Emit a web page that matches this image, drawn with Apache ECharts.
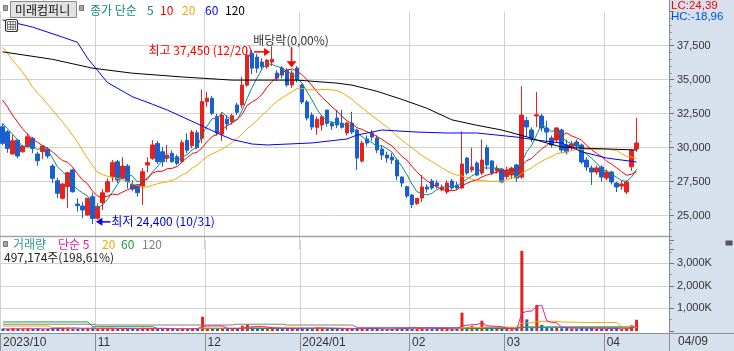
<!DOCTYPE html>
<html><head><meta charset="utf-8">
<script src="https://cdn.jsdelivr.net/npm/echarts/dist/echarts.min.js"></script>
<style>html,body{margin:0;padding:0;background:#fff}#c{width:734px;height:351px}</style>
</head><body><div id="c"></div>
<script>
// ---------------- DATA ----------------
const tradingDays = {
  '2023/10': [4,5,6,10,11,12,13,16,17,18,19,20,23,24,25,26,27,30,31],
  '2023/11': [1,2,3,6,7,8,9,10,13,14,15,16,17,20,21,22,23,24,27,28,29,30],
  '2023/12': [1,4,5,6,7,8,11,12,13,14,15,18,19,20,21,22,26,27,28],
  '2024/01': [2,3,4,5,8,9,10,11,12,15,16,17,18,19,22,23,24,25,26,29,30,31],
  '2024/02': [1,2,5,6,7,8,13,14,15,16,19,20,21,22,23,26,27,28,29],
  '2024/03': [4,5,6,7,8,11,12,13,14,15,18,19,20,21,22,25,26,27,28,29],
  '2024/04': [1,2,3,4,5,8,9]
};
const categories = [];
Object.keys(tradingDays).forEach(m => tradingDays[m].forEach(d => categories.push(m + '/' + String(d).padStart(2, '0'))));

const opens = [31540,31170,29540,30560,29700,30070,30690,29540,29710,29880,
 28650,27570,26280,27130,28360,25860,25710,25050,26400,24810,
 25950,26760,27870,28970,27750,28650,27300,27300,27130,28730,
 29220,30320,29700,29220,29590,29340,29000,30550,30150,31100,
 30700,33380,33630,32300,31000,32100,31900,33140,33140,34600,
 36950,36660,36300,35950,36300,35490,35860,35710,34610,35860,
 34610,33360,32400,31500,31670,32770,31800,32180,31800,31080,
 31810,31300,29020,30640,31080,30710,29900,29460,29310,29090,
 27840,27130,26520,25900,26300,27110,27550,27400,26900,26740,
 27550,27250,27040,29240,28360,28870,28140,30000,29020,28280,
 28430,27880,28000,28730,27840,32000,31300,32330,32330,31450,
 30710,30560,31300,30200,29980,30420,30200,29090,28510,28210,
 28580,27770,28210,27400,27180,26740,28600,29900];
const highs = [31790,31300,30930,30600,30200,31050,30800,29700,30200,30050,
 28800,27800,27400,28200,28450,26280,26000,26300,26700,25900,
 26950,27750,29090,29100,29300,28800,27600,27300,28500,29300,
 30560,30500,30050,30200,29800,29500,30560,31050,31300,31300,
 34280,34110,33800,32500,32600,32400,32500,33300,35200,37180,
 37180,36900,36600,36500,37450,35700,36000,35850,35700,36000,
 34700,33500,32600,32300,32400,32770,31950,32770,32800,31900,
 32640,31400,30500,30900,31300,30900,30200,29700,29600,29200,
 27900,27200,26600,26300,27990,27300,27700,27600,27300,27600,
 27700,27500,31200,29300,30000,29000,30600,30200,29100,28700,
 28500,28600,28600,28800,34530,32280,31500,34090,32500,32000,
 30900,31500,31400,30600,30500,30600,30300,29300,28700,28700,
 28700,28400,28300,27500,27600,27600,29900,32200];
const lows = [30190,29630,29500,29220,29650,30000,29600,28670,29180,29220,
 27400,26290,26200,25560,26700,25300,24810,25000,24400,24700,
 25420,26700,27500,27400,27700,27000,26800,26400,25790,28200,
 29100,28800,28600,28930,28900,28700,28950,29590,29950,29900,
 30320,33010,32400,30900,30500,31300,31700,32400,32900,34500,
 35400,35500,35700,35800,36000,34900,35100,34500,34400,34800,
 33200,32000,31300,30950,31250,31550,31300,31450,31400,30900,
 31000,28360,28900,30100,30500,29600,29100,28900,28800,27600,
 27110,26300,25570,25800,26000,26700,26900,27000,26800,26600,
 26900,26900,27000,28000,28200,27900,28000,28400,28000,28100,
 27400,27700,27700,27480,27700,30800,30420,31520,31200,30400,
 30000,30400,29600,29500,29800,29900,28800,28300,27260,28000,
 27500,27600,27300,26740,26900,26600,28300,29700];
const closes = [30320,29950,30510,29390,30120,30800,29950,29040,30120,29390,
 27750,26650,27330,28160,26760,25740,25420,26280,24800,25660,
 26690,27500,28900,27620,28650,27500,26960,26690,28230,28900,
 30200,28970,28970,29460,28970,28850,30370,29820,31150,30000,
 33390,33630,32530,31100,32400,31750,32350,32600,34600,36800,
 35850,35850,35950,36440,36500,35120,35340,34610,35490,34970,
 33360,32180,31520,32100,32280,31790,31600,31670,31500,31810,
 31150,29240,30340,30340,30780,29830,29460,29240,29090,27920,
 27400,26450,25820,26280,27110,26960,27040,27180,27110,27400,
 27040,27040,28800,28140,28580,27990,29090,28730,28140,28500,
 27480,28320,28500,27770,32400,31530,30710,32420,31450,31150,
 30200,31450,29830,29680,30270,30120,28950,28580,28210,28510,
 27840,28210,27480,27110,27330,27480,29800,30350];
const volumes = [110000,95000,120000,100000,80000,105000,90000,115000,85000,90000,130000,140000,120000,150000,135000,110000,95000,120000,150000,
 110000,120000,100000,130000,115000,105000,100000,90000,85000,140000,100000,135000,120000,95000,90000,85000,80000,110000,95000,130000,100000,630000,
 140000,120000,110000,130000,90000,85000,120000,235000,295000,190000,160000,130000,110000,120000,140000,115000,100000,95000,120000,
 150000,145000,110000,145000,120000,110000,100000,95000,90000,110000,100000,150000,130000,95000,85000,90000,80000,75000,85000,160000,120000,130000,
 140000,90000,100000,180000,95000,90000,85000,90000,100000,85000,810000,180000,220000,140000,455000,170000,120000,100000,110000,
 90000,80000,120000,3550000,515000,150000,1150000,265000,160000,130000,140000,125000,140000,115000,110000,130000,120000,140000,100000,110000,
 90000,100000,130000,80000,110000,250327,497174];

const ma5Head = [31800,31400,31000,30600];
const ma10Head = [33500,33000,32400,31900,31400,31000,30650,30400,30150];
const ma20Head = [37400,36960,36440,36000,35560,35050,34460,34020,33650,33210,32770,32330,31890,31450,30930,30420,29830,29240,28730];
const ma60Samples = [[0,39400],[6,38870],[12,38135],[15,37750],[17,36600],[19,35700],[21,34800],[26,33750],[30,33200],[33,32770],[40,31600],[43,31080],[46,30600],[50,30270],[53,30200],[62,30350],[69,30640],[71,30930],[76,31300],[83,31150],[89,31080],[95,31080],[103,30780],[107,30560],[112,30340],[116,29700],[121,29240],[127,28950]];
const ma120Samples = [[0,37050],[10,36500],[18,35850],[26,35480],[36,35200],[46,34970],[59,34970],[67,34750],[70,34600],[75,34150],[80,33550],[85,32900],[90,32050],[95,31650],[100,31300],[105,30800],[108,30450],[112,30050],[116,29970],[127,29830]];
const volMa5Head = [90000,90000,95000,95000];
const volMa20Head = [220000,220000,220000,220000,220000,220000,220000,220000,220000,220000,150000,150000,150000,110000,110000,110000,110000,110000,110000];
const volMa60Samples = [[0,400000],[17,400000],[18,190000],[30,190000],[31,110000],[103,110000],[104,165000],[127,170000]];
const volMa120Samples = [[0,300000],[18,300000],[19,265000],[46,265000],[47,300000],[56,300000],[57,265000],[70,265000],[71,160000],[103,150000],[104,180000],[127,180000]];

const priceTicks = {min: 22500, max: 40000, step: 2500};
const volTicks = {min: 0, max: 4000000, step: 1000000};
const exDividendDate = '2023/12/27';
const exDividendText = '배당락(0,00%)';
const stockName = '미래컴퍼니';
const emptySlots = 6;

// ---------------- HELPERS ----------------
function movingAvg(vals, n, head) {
  return vals.map((_, i) => {
    if (i < n - 1) return head[i];
    let s = 0; for (let k = i - n + 1; k <= i; k++) s += vals[k];
    return Math.round(s / n);
  });
}
function fromSamples(samples, len) { const a = new Array(len).fill(null); samples.forEach(([i, v]) => a[i] = v); return a; }
const N = categories.length;
const xCats = categories.concat(Array.from({length: emptySlots}, (_, k) => '_' + k));
const isMonthStart = idx => idx < N && (idx === 0 || categories[idx].slice(0, 7) !== categories[idx - 1].slice(0, 7));
const monthLabel = idx => { const [y, m] = categories[idx].split('/'); return (idx === 0 || categories[idx - 1].slice(0, 4) !== y) ? y + '/' + m : m; };
const fmt = v => v.toLocaleString('en-US');
const mmdd = s => s.slice(5);

const RED = '#e8211b', BLUE = '#1a5fd1';
const CJK = '"Noto Sans CJK KR", sans-serif';
const NUM = '"Liberation Sans", Arial, sans-serif';
const GRID = '#d2d2d2', AX = '#8c8c8c';

const candleData = categories.map((_, i) => [opens[i], closes[i], lows[i], highs[i]]);
const volData = volumes.map((v, i) => ({value: v, itemStyle: {color: closes[i] >= opens[i] ? RED : BLUE}}));

function lineSeries(name, data, color, xi, yi, connect) {
  return {name, type: 'line', data, xAxisIndex: xi, yAxisIndex: yi, showSymbol: false, symbol: 'none',
    connectNulls: !!connect, lineStyle: {width: 1, color}, itemStyle: {color}, silent: true, z: 3};
}

const chart = echarts.init(document.getElementById('c'), null, {renderer: 'canvas', width: 734, height: 351});

const option = {
  animation: false,
  backgroundColor: '#ffffff',
  grid: [
    {left: 0, width: 669, top: 11.7, height: 238},
    {left: 0, width: 669, top: 240.6, height: 90.4}
  ],
  xAxis: [
    {type: 'category', gridIndex: 0, data: xCats, boundaryGap: true,
     axisLine: {show: false}, axisTick: {show: false}, axisLabel: {show: false},
     splitLine: {show: true, interval: idx => isMonthStart(idx), lineStyle: {color: GRID, width: 1}}},
    {type: 'category', gridIndex: 1, data: xCats, boundaryGap: true, offset: 2,
     axisLine: {show: true, onZero: false, lineStyle: {color: AX}},
     axisTick: {show: true, interval: idx => isMonthStart(idx), length: 18, lineStyle: {color: AX}},
     axisLabel: {show: true, interval: idx => isMonthStart(idx), formatter: (v, idx) => isMonthStart(idx) ? monthLabel(idx) : '',
       align: 'left', margin: 4, fontSize: 12, color: '#333', fontFamily: NUM},
     splitLine: {show: true, interval: idx => isMonthStart(idx), lineStyle: {color: GRID, width: 1}}}
  ],
  yAxis: [
    {type: 'value', gridIndex: 0, position: 'right', min: priceTicks.min, max: priceTicks.max, interval: priceTicks.step,
     axisLine: {show: true, lineStyle: {color: AX}},
     axisTick: {show: true, length: 5, lineStyle: {color: '#777'}},
     minorTick: {show: true, splitNumber: 5, length: 3, lineStyle: {color: '#999'}},
     axisLabel: {margin: 8, fontSize: 11, color: '#333', fontFamily: NUM, showMinLabel: false, showMaxLabel: false,
       formatter: v => (v > priceTicks.min + 1000 && v < priceTicks.max) ? fmt(v) : ''},
     splitLine: {show: true, showMinLine: false, showMaxLine: false, lineStyle: {color: GRID}}},
    {type: 'value', gridIndex: 1, position: 'right', min: volTicks.min, max: volTicks.max, interval: volTicks.step,
     axisLine: {show: true, lineStyle: {color: AX}},
     axisTick: {show: true, length: 5, lineStyle: {color: '#777'}},
     minorTick: {show: true, splitNumber: 2, length: 3, lineStyle: {color: '#999'}},
     axisLabel: {margin: 8, fontSize: 11, color: '#333', fontFamily: NUM, showMaxLabel: false,
       formatter: v => (v > 0 && v < volTicks.max) ? fmt(v / 1000) + 'K' : ''},
     splitLine: {show: true, showMinLine: false, showMaxLine: false, lineStyle: {color: GRID}}}
  ],
  series: [
    {type: 'candlestick', xAxisIndex: 0, yAxisIndex: 0, data: candleData, barWidth: 4, silent: true, z: 2,
     itemStyle: {color: RED, color0: BLUE, borderColor: RED, borderColor0: BLUE, borderWidth: 1}},
    lineSeries('MA5', movingAvg(closes, 5, ma5Head), '#0f8a80', 0, 0),
    lineSeries('MA10', movingAvg(closes, 10, ma10Head), '#ff0000', 0, 0),
    lineSeries('MA20', movingAvg(closes, 20, ma20Head), '#f2a900', 0, 0),
    lineSeries('MA60', fromSamples(ma60Samples, N), '#0000ff', 0, 0, true),
    lineSeries('MA120', fromSamples(ma120Samples, N), '#000000', 0, 0, true),
    {type: 'bar', xAxisIndex: 1, yAxisIndex: 1, data: volData, barWidth: 3, silent: true, z: 2},
    lineSeries('VMA120', fromSamples(volMa120Samples, N), '#808080', 1, 1, true),
    lineSeries('VMA60', fromSamples(volMa60Samples, N), '#1b9a3c', 1, 1, true),
    lineSeries('VMA20', movingAvg(volumes, 20, volMa20Head), '#f2a900', 1, 1),
    lineSeries('VMA5', movingAvg(volumes, 5, volMa5Head), '#e01fa6', 1, 1)
  ]
};
chart.setOption(option);

// ---------------- GRAPHIC (panels, header, annotations) ----------------
const panelBg = '#d7e1ee';
const txt = (id, text, x, y, fill, size, fam, align) => ({type: 'text', id, x: 0, y: 0, silent: true, z: 50,
  style: {text, x, y, fill, font: size + 'px ' + fam, textAlign: align || 'left', textVerticalAlign: 'middle'}});

const lastClose = closes[N - 1];
const minLow = Math.min(...lows), maxHigh = Math.max(...highs);
const loIdx = lows.indexOf(minLow), hiIdx = highs.indexOf(maxHigh);
const exIdx = categories.indexOf(exDividendDate);
const LC = ((lastClose / minLow - 1) * 100).toFixed(2).replace('.', ',');
const HC = ((lastClose / maxHigh - 1) * 100).toFixed(2).replace('.', ',');
const volRatio = (volumes[N - 1] / volumes[N - 2] * 100).toFixed(2).replace('.', ',');

const pHi = chart.convertToPixel({gridIndex: 0}, [hiIdx, maxHigh]);
const pLo = chart.convertToPixel({gridIndex: 0}, [loIdx, minLow]);
const pEx = chart.convertToPixel({gridIndex: 0}, [exIdx, highs[exIdx]]);

const g = [
  {type: 'rect', id: 'rp', shape: {x: 669, y: 0, width: 65, height: 333}, style: {fill: panelBg}, z: -10, silent: true},
  {type: 'rect', id: 'bb', shape: {x: 0, y: 333, width: 734, height: 18}, style: {fill: panelBg}, z: -10, silent: true},
  {type: 'line', id: 'sep', shape: {x1: 0, y1: 236.5, x2: 669, y2: 236.5}, style: {stroke: '#a3a3a3', lineWidth: 1.5}, z: 40, silent: true},
  {type: 'line', id: 'vl', shape: {x1: 669.5, y1: 0, x2: 669.5, y2: 351}, style: {stroke: AX, lineWidth: 1}, z: 40, silent: true},
  {type: 'line', id: 'bl', shape: {x1: 669, y1: 333.5, x2: 734, y2: 333.5}, style: {stroke: AX, lineWidth: 1}, z: 40, silent: true},
  // header
  {type: 'rect', id: 'sq1', shape: {x: 3.5, y: 5.5, width: 4, height: 5}, style: {fill: '#a5a5a5', stroke: '#777'}, z: 50, silent: true},
  {type: 'rect', id: 'btn', shape: {x: 10.5, y: 1.5, width: 66, height: 16}, style: {fill: '#e2e2e2', stroke: '#8a8a8a'}, z: 49, silent: true},
  txt('btnT', stockName, 15, 10, '#111', 12, CJK),
  {type: 'rect', id: 'sq2', shape: {x: 79.5, y: 5.5, width: 4, height: 5}, style: {fill: '#a5a5a5', stroke: '#777'}, z: 50, silent: true},
  txt('h1', '종가 단순', 90, 10, '#0f8a80', 12, CJK),
  txt('h2', '5', 147, 10, '#0f8a80', 12, CJK),
  txt('h3', '10', 160, 10, '#ff0000', 12, CJK),
  txt('h4', '20', 182, 10, '#f2a900', 12, CJK),
  txt('h5', '60', 205, 10, '#0000ff', 12, CJK),
  txt('h6', '120', 225, 10, '#000000', 12, CJK),
  {type: 'rect', id: 'ic', shape: {x: 5.5, y: 19.5, width: 12, height: 12, r: 2}, style: {fill: '#fff', stroke: '#333', lineWidth: 1.2}, z: 50, silent: true},
  {type: 'rect', id: 'ic2', shape: {x: 7.5, y: 21.5, width: 8, height: 8}, style: {fill: '#fff', stroke: '#555', lineWidth: 0.8}, z: 51, silent: true},
  {type: 'line', id: 'ic3', shape: {x1: 7.5, y1: 24.5, x2: 15.5, y2: 24.5}, style: {stroke: '#555', lineWidth: 0.8}, z: 52, silent: true},
  {type: 'line', id: 'ic4', shape: {x1: 7.5, y1: 27, x2: 15.5, y2: 27}, style: {stroke: '#555', lineWidth: 0.8}, z: 52, silent: true},
  {type: 'line', id: 'ic5', shape: {x1: 10.5, y1: 21.5, x2: 10.5, y2: 29.5}, style: {stroke: '#555', lineWidth: 0.8}, z: 52, silent: true},
  {type: 'line', id: 'ic6', shape: {x1: 13, y1: 21.5, x2: 13, y2: 29.5}, style: {stroke: '#555', lineWidth: 0.8}, z: 52, silent: true},
  txt('lc', 'LC:' + LC, 671, 6, '#ff0000', 11.5, NUM),
  txt('hc', 'HC:' + HC, 671, 17, '#0050e0', 11.5, NUM),
  // volume header
  {type: 'rect', id: 'vsq', shape: {x: 3.5, y: 241.5, width: 4, height: 5}, style: {fill: '#a5a5a5', stroke: '#777'}, z: 50, silent: true},
  txt('v1', '거래량', 13, 244, '#2a9a98', 12, CJK),
  txt('v2', '단순 5', 58, 244, '#e01fa6', 12, CJK),
  txt('v3', '20', 102, 244, '#f2a900', 12, CJK),
  txt('v4', '60', 121, 244, '#1b9a3c', 12, CJK),
  txt('v5', '120', 142, 244, '#808080', 12, CJK),
  txt('v6', fmt(volumes[N - 1]) + '주(' + volRatio + '%)', 4, 257, '#222', 12, CJK),
  {type: 'rect', id: 'xic', shape: {x: 725.5, y: 240.5, width: 7, height: 5}, style: {fill: '#555'}, z: 50, silent: true},
  txt('lastd', mmdd(categories[N - 1]), 678, 342, '#333', 12, NUM),
  // annotations
  txt('hiT', '최고 ' + fmt(maxHigh) + ' (' + mmdd(categories[hiIdx]) + ')', pHi[0] - 20, pHi[1] + 4, '#ff0000', 12, CJK, 'right'),
  {type: 'line', id: 'hiL', shape: {x1: pHi[0] - 18, y1: pHi[1] + 5.5, x2: pHi[0] - 6, y2: pHi[1] + 5.5}, style: {stroke: '#ff0000', lineWidth: 1.5}, z: 50, silent: true},
  {type: 'polygon', id: 'hiA', shape: {points: [[pHi[0] - 8, pHi[1] + 1.5], [pHi[0] - 2, pHi[1] + 5.5], [pHi[0] - 8, pHi[1] + 9.5]]}, style: {fill: '#ff0000'}, z: 50, silent: true},
  txt('exT', exDividendText, pEx[0] - 1, pEx[1] - 30, '#333', 12, CJK, 'center'),
  {type: 'line', id: 'exL', shape: {x1: pEx[0] - 0.5, y1: pEx[1] - 23, x2: pEx[0] - 0.5, y2: pEx[1] - 8}, style: {stroke: '#ff0000', lineWidth: 1.5}, z: 50, silent: true},
  {type: 'polygon', id: 'exA', shape: {points: [[pEx[0] - 5.5, pEx[1] - 9], [pEx[0] + 4.5, pEx[1] - 9], [pEx[0] - 0.5, pEx[1] - 3]]}, style: {fill: '#ff0000'}, z: 50, silent: true},
  txt('loT', '최저 ' + fmt(minLow) + ' (' + mmdd(categories[loIdx]) + ')', pLo[0] + 19, pLo[1] - 2, '#0000ee', 12, CJK),
  {type: 'line', id: 'loL', shape: {x1: pLo[0] + 8, y1: pLo[1] - 2, x2: pLo[0] + 18, y2: pLo[1] - 2}, style: {stroke: '#0000ee', lineWidth: 1.5}, z: 50, silent: true},
  {type: 'polygon', id: 'loA', shape: {points: [[pLo[0] + 10, pLo[1] - 6], [pLo[0] + 3.5, pLo[1] - 2], [pLo[0] + 10, pLo[1] + 2]]}, style: {fill: '#0000ee'}, z: 50, silent: true}
];
chart.setOption({graphic: {elements: g}});
</script></body></html>
